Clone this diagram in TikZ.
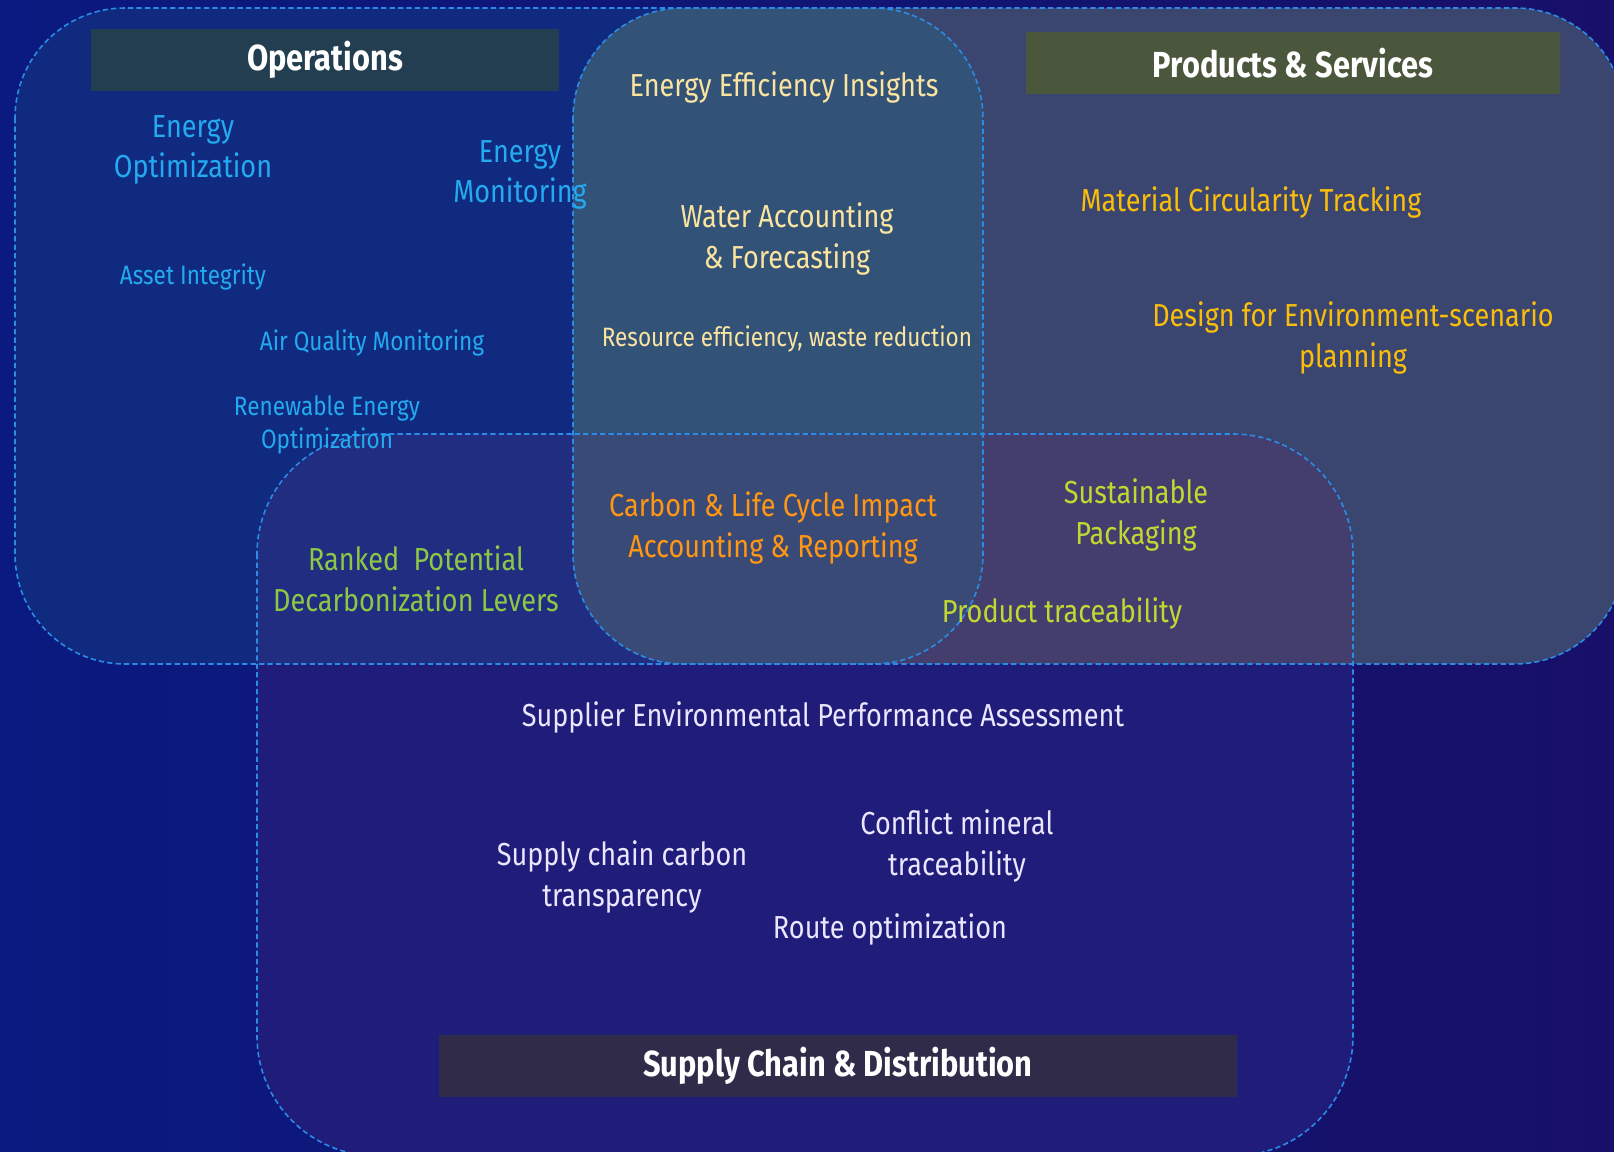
\documentclass[tikz,border=0pt]{standalone}
\usepackage{fontspec}
\setmainfont{Fira Sans}[FakeStretch=0.85]
\usepackage{tikz}
\usetikzlibrary{positioning, backgrounds}
\usepackage{xcolor}

% colours
\definecolor{bgleft}{RGB}{10,26,128}
\definecolor{bgright}{RGB}{24,16,104}
\definecolor{edgeblue}{RGB}{42,140,230}
\definecolor{opsfill}{RGB}{16,42,128}
\definecolor{prodfill}{RGB}{58,70,112}
\definecolor{centerfill}{RGB}{50,82,120}
\definecolor{supfill}{RGB}{32,28,122}
\definecolor{opssup}{RGB}{32,45,128}
\definecolor{prodsup}{RGB}{68,62,110}
\definecolor{allfill}{RGB}{58,74,118}
\definecolor{opshead}{RGB}{35,62,80}
\definecolor{prodhead}{RGB}{75,87,60}
\definecolor{suphead}{RGB}{47,43,72}
\definecolor{opstext}{RGB}{35,170,240}
\definecolor{creamtext}{RGB}{250,228,160}
\definecolor{goldtext}{RGB}{250,190,10}
\definecolor{orangetext}{RGB}{255,150,20}
\definecolor{greentext}{RGB}{140,200,70}
\definecolor{limetext}{RGB}{195,215,50}
\definecolor{suptext}{RGB}{235,230,255}

\begin{document}
\begin{tikzpicture}[x=0.01cm, y=-0.01cm,
    region/.style={draw=edgeblue, line width=0.45pt, dash pattern=on 1.5pt off 0.9pt},
    header/.style={fill=#1, text=white, font=\bfseries\fontsize{10.3}{12}\selectfont, minimum height=0.62cm, inner sep=0pt},
    item/.style={text=#1, align=center, font=\fontsize{9.05}{11.5}\selectfont, inner sep=0pt, yshift=-0.03cm},
    smallitem/.style={text=#1, align=center, font=\fontsize{7.55}{9.4}\selectfont, inner sep=0pt, yshift=-0.02cm}
]
\useasboundingbox (0,0) rectangle (1614,1152);
\clip (0,0) rectangle (1614,1152);

% Background
\shade[left color=bgleft, right color=bgright] (0,0) rectangle (1614,1152);

% Operations and Products & Services
\fill[opsfill, rounded corners=1.1cm] (15,8) rectangle (983,664);
\fill[prodfill, rounded corners=1.1cm] (573,8) rectangle (1625,664);
\begin{scope}
    \clip[rounded corners=1.1cm] (15,8) rectangle (983,664);
    \fill[centerfill, rounded corners=1.1cm] (573,8) rectangle (1625,664);
\end{scope}

% Supply Chain and its overlaps
\fill[supfill, rounded corners=1.2cm] (257,434) rectangle (1353,1156);
\begin{scope}
    \clip[rounded corners=1.2cm] (257,434) rectangle (1353,1156);
    \fill[opssup, rounded corners=1.1cm] (15,8) rectangle (983,664);
    \fill[prodsup, rounded corners=1.1cm] (573,8) rectangle (1625,664);
    \clip[rounded corners=1.1cm] (15,8) rectangle (983,664);
    \fill[allfill, rounded corners=1.1cm] (573,8) rectangle (1625,664);
\end{scope}

% Dashed outlines
\draw[region, rounded corners=1.1cm] (15,8) rectangle (983,664);
\draw[region, rounded corners=1.1cm] (573,8) rectangle (1625,664);
\draw[region, rounded corners=1.2cm] (257,434) rectangle (1353,1156);

% Headers
\node[header=opshead, minimum width=4.68cm] (opsHead) at (325,60) {Operations};
\node[header=prodhead, minimum width=5.33cm] (prodHead) at (1293,63) {Products \& Services};
\node[header=suphead, minimum width=7.97cm] (supHead) at (838,1066) {Supply Chain \& Distribution};

% Operations
\node[item=opstext] (energyOpt) at (193,147) {Energy\\Optimization};
\node[item=opstext] (energyMon) at (520,172) {Energy\\Monitoring};
\node[smallitem=opstext] (asset) at (193,275) {Asset Integrity};
\node[smallitem=opstext] (airQ) at (372,341) {Air Quality Monitoring};
\node[smallitem=opstext] (renew) at (327,423) {Renewable Energy\\Optimization};

% Operations / Products overlap
\node[item=creamtext] (effIns) at (784,84) {Energy Efficiency Insights};
\node[item=creamtext] (water) at (787,236) {Water Accounting\\\& Forecasting};
\node[smallitem=creamtext] (resource) at (787,337) {Resource efficiency, waste reduction};

% Products & Services
\node[item=goldtext] (material) at (1251,199) {Material Circularity Tracking};
\node[item=goldtext] (design) at (1353,335) {Design for Environment-scenario\\planning};

% Supply Chain overlaps
\node[item=orangetext] (carbon) at (773,525) {Carbon \& Life Cycle Impact\\Accounting \& Reporting};
\node[item=greentext] (ranked) at (416,576) {Ranked~ Potential\\Decarbonization Levers};
\node[item=limetext] (packaging) at (1136,512) {Sustainable\\Packaging};
\node[item=limetext] (prodTrace) at (1062,610) {Product traceability};

% Supply Chain & Distribution
\node[item=suptext] (supplier) at (823,714) {Supplier Environmental Performance Assessment};
\node[item=suptext] (supCarbon) at (622,874) {Supply chain carbon\\transparency};
\node[item=suptext] (conflict) at (957,843) {Conflict mineral\\traceability};
\node[item=suptext] (route) at (890,926) {Route optimization};
\end{tikzpicture}
\end{document}
